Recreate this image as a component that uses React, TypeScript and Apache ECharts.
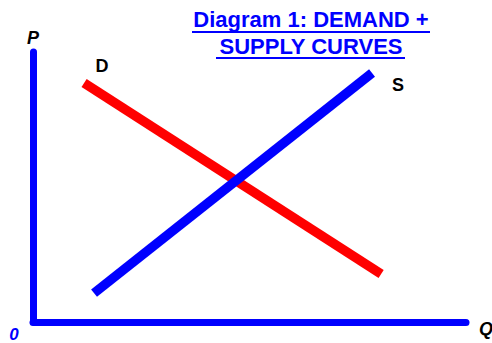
import React, { useEffect, useRef } from "react";
import * as echarts from "echarts";

const demandPoints: [number, number][] = [
  [11.8, 88.5],
  [80.4, 17.8],
];
const supplyPoints: [number, number][] = [
  [14.1, 10.7],
  [78.3, 92.2],
];
const titleLines = ["Diagram 1: DEMAND +", "SUPPLY CURVES"];
const curveNames = ["D", "S"];
const axisNames = ["P", "Q", "0"];

const BLUE = "#0000ff";
const RED = "#ff0000";
const FONT = "'Liberation Sans', Arial, Helvetica, sans-serif";

export default function App() {
  const ref = useRef<HTMLDivElement>(null);
  useEffect(() => {
    if (!ref.current) return;
    const chart = echarts.init(ref.current, undefined, { renderer: "svg" });
    const labelStyle = {
      show: true,
      position: "inside" as const,
      color: "#000",
      fontFamily: FONT,
      fontWeight: "bold" as const,
      fontSize: 18,
    };
    chart.setOption({
      animation: false,
      backgroundColor: "#fff",
      grid: { left: 33, top: 52, right: 26, bottom: 21 },
      xAxis: {
        type: "value",
        min: 0,
        max: 100,
        axisLine: { show: true, lineStyle: { color: BLUE, width: 7 } },
        axisTick: { show: false },
        axisLabel: { show: false },
        splitLine: { show: false },
      },
      yAxis: {
        type: "value",
        min: 0,
        max: 100,
        axisLine: { show: true, lineStyle: { color: BLUE, width: 7 } },
        axisTick: { show: false },
        axisLabel: { show: false },
        splitLine: { show: false },
      },
      series: [
        {
          type: "line",
          name: curveNames[0],
          symbol: "circle",
          symbolSize: 0,
          showSymbol: true,
          lineStyle: { color: RED, width: 9.5, cap: "butt" },
          itemStyle: { color: RED },
          data: demandPoints.map((p, i) =>
            i === 0
              ? { value: p, label: { ...labelStyle, formatter: curveNames[0], offset: [18, -17] } }
              : { value: p, label: { show: false } }
          ),
        },
        {
          type: "line",
          name: curveNames[1],
          symbol: "circle",
          symbolSize: 0,
          showSymbol: true,
          lineStyle: { color: BLUE, width: 9.5, cap: "butt" },
          itemStyle: { color: BLUE },
          data: supplyPoints.map((p, i) =>
            i === 1
              ? { value: p, label: { ...labelStyle, formatter: curveNames[1], offset: [26, 12] } }
              : { value: p, label: { show: false } }
          ),
        },
      ],
      graphic: [
        {
          type: "text",
          x: 311,
          y: 19.5,
          style: {
            text: titleLines[0],
            fill: BLUE,
            font: `bold 22px ${FONT}`,
            textAlign: "center",
            textVerticalAlign: "middle",
          },
        },
        {
          type: "text",
          x: 311,
          y: 46,
          style: {
            text: titleLines[1],
            fill: BLUE,
            font: `bold 22px ${FONT}`,
            textAlign: "center",
            textVerticalAlign: "middle",
          },
        },
        { type: "rect", shape: { x: 192, y: 31, width: 238, height: 2 }, style: { fill: BLUE } },
        { type: "rect", shape: { x: 216, y: 57, width: 189, height: 2 }, style: { fill: BLUE } },
        {
          type: "text",
          x: 33,
          y: 37.5,
          style: {
            text: axisNames[0],
            fill: "#000",
            font: `italic bold 18px ${FONT}`,
            textAlign: "center",
            textVerticalAlign: "middle",
          },
        },
        {
          type: "text",
          x: 486,
          y: 329,
          style: {
            text: axisNames[1],
            fill: "#000",
            font: `italic bold 18px ${FONT}`,
            textAlign: "center",
            textVerticalAlign: "middle",
          },
        },
        {
          type: "text",
          x: 14,
          y: 334,
          style: {
            text: axisNames[2],
            fill: BLUE,
            font: `italic bold 17px ${FONT}`,
            textAlign: "center",
            textVerticalAlign: "middle",
          },
        },
      ],
    });
    return () => chart.dispose();
  }, []);
  return (
    <div
      ref={ref}
      style={{ position: "fixed", left: 0, top: 0, width: 492, height: 343 }}
    />
  );
}
